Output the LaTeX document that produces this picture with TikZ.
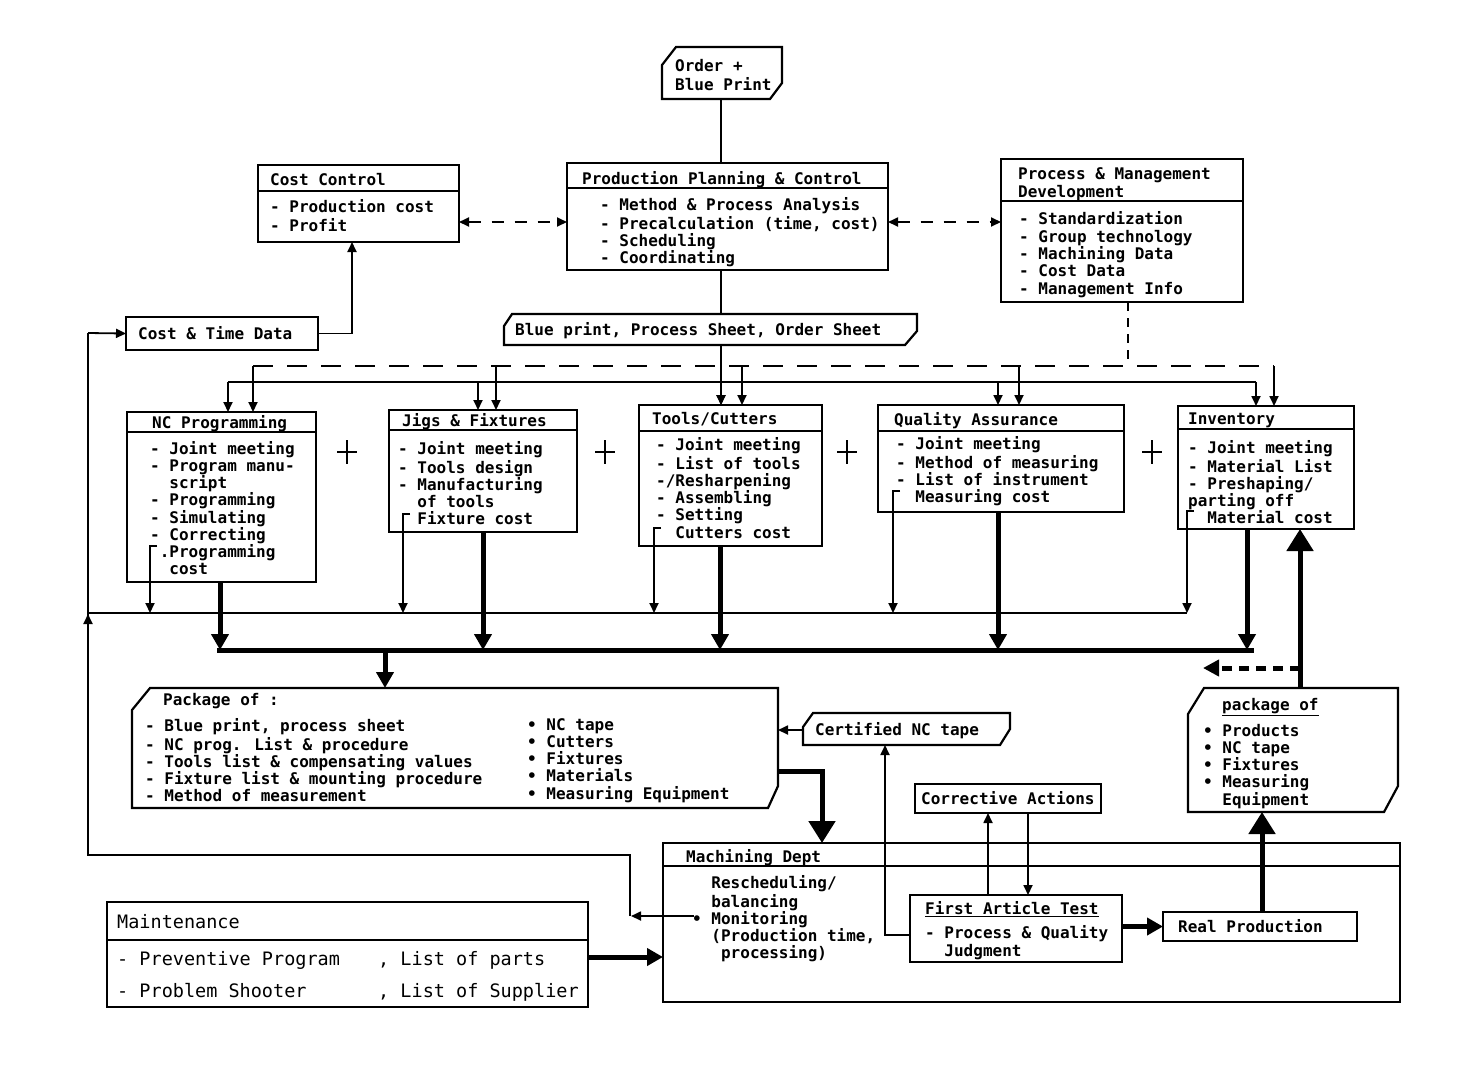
\documentclass[tikz,border=0pt]{standalone}
\usepackage{fontspec}
\newfontfamily\dmono{DejaVu Sans Mono}
\usetikzlibrary{arrows.meta}
\newcommand\dmfont{\dmono\bfseries\fontsize{16}{17.2}\selectfont}
\newcommand\mtfont{\dmono\fontsize{18.5}{17.2}\selectfont}
\newcommand\ind{\hphantom{- }}
\newcommand\bind{\hphantom{• }}
\newcommand\tagbox[5]{\draw[bl] ([yshift=-#3]#1.north west) -- ([xshift=#2]#1.north west) -- (#1.north east) -- ([yshift=#5]#1.south east) -- ([xshift=-#4]#1.south east) -- (#1.south west) -- cycle;}
\newcommand\hsep[2]{\draw[bl] ([yshift=-#2]#1.north west) -- ([yshift=-#2]#1.north east);}
\begin{document}
\begin{tikzpicture}[x=1pt,y=-1pt,
  bl/.style={line width=2.2pt},
  box/.style={draw, line width=2.2pt, inner sep=0pt, outer sep=0pt, anchor=north west},
  lab/.style={inner sep=0pt, outer sep=0pt, anchor=north west},
  txt/.style={inner sep=0pt, anchor=north west, align=left, font=\dmfont},
  tl/.style={line width=1.8pt},
  thk/.style={line width=5pt},
  arr/.style={-{Triangle[length=10pt,width=9pt]}},
  darr/.style={{Triangle[length=10pt,width=9pt]}-{Triangle[length=10pt,width=9pt]}},
  thkarr/.style={-{Triangle[length=16pt,width=17pt]}},
  bigarr/.style={-{Triangle[length=22pt,width=26pt]}},
  dsh/.style={dash pattern=on 20pt off 14pt},
]
\fill[white] (0,0) rectangle (1471,1069);
\useasboundingbox (0,0) rectangle (1471,1069);

% Order
\node[lab, minimum width=120pt, minimum height=52pt] (order) at (662,47) {};
\tagbox{order}{14pt}{18pt}{12pt}{16pt}
\node[txt] (ordert) at (675,59) {\strut Order +\\Blue Print};

% PPC
\node[box, minimum width=321pt, minimum height=107pt] (ppc) at (567,163) {};
\hsep{ppc}{25pt}
\node[txt] (ppch) at (582,171) {\strut Production Planning \& Control};
\node[txt] (ppcb) at (600,197) {\strut - Method \& Process Analysis\\- Precalculation (time, cost)\\- Scheduling\\- Coordinating};

% Cost control
\node[box, minimum width=201pt, minimum height=77pt] (cost) at (258,165) {};
\hsep{cost}{26pt}
\node[txt] (costh) at (270,173) {\strut Cost Control};
\node[txt] (costb) at (270,199) {\strut - Production cost\\- Profit};

% Process & management development
\node[box, minimum width=242pt, minimum height=143pt] (pmd) at (1001,159) {};
\hsep{pmd}{42pt}
\node[txt] (pmdh) at (1018,167) {\strut Process \& Management\\Development};
\node[txt] (pmdb) at (1019,211) {\strut - Standardization\\- Group technology\\- Machining Data\\- Cost Data\\- Management Info};

% Cost & time data
\node[box, minimum width=192pt, minimum height=33pt] (ctd) at (126,317) {};
\node[txt] (ctdt) at (138,326) {\strut Cost \& Time Data};

% Blue print label
\node[lab, minimum width=413pt, minimum height=31pt] (blue) at (504,314) {};
\tagbox{blue}{8pt}{12pt}{12pt}{14pt}
\node[txt] (bluet) at (515,322) {\strut Blue print, Process Sheet, Order Sheet};

% NC Programming
\node[box, minimum width=189pt, minimum height=170pt] (nc) at (127,412) {};
\hsep{nc}{20pt}
\node[txt] (nch) at (152,415) {\strut NC Programming};
\node[txt] (ncb) at (150,441) {\strut - Joint meeting\\- Program manu-\\\ind script\\- Programming\\- Simulating\\- Correcting\\\hphantom{-}.Programming\\\ind cost};

% Jigs & Fixtures
\node[box, minimum width=188pt, minimum height=122pt] (jig) at (389,410) {};
\hsep{jig}{20pt}
\node[txt] (jigh) at (402,413) {\strut Jigs \& Fixtures};
\node[txt] (jigb) at (398,441) {\strut - Joint meeting\\- Tools design\\- Manufacturing\\\ind of tools\\\ind Fixture cost};

% Tools/Cutters
\node[box, minimum width=183pt, minimum height=141pt] (tools) at (639,405) {};
\hsep{tools}{26pt}
\node[txt] (toolsh) at (652,412) {\strut Tools/Cutters};
\node[txt] (toolsb) at (656,437) {\strut - Joint meeting\\- List of tools\\-/Resharpening\\- Assembling\\- Setting\\\ind Cutters cost};

% Quality Assurance
\node[box, minimum width=246pt, minimum height=107pt] (qa) at (878,405) {};
\hsep{qa}{26pt}
\node[txt] (qah) at (894,412) {\strut Quality Assurance};
\node[txt] (qab) at (896,436) {\strut - Joint meeting\\- Method of measuring\\- List of instrument\\\ind Measuring cost};

% Inventory
\node[box, minimum width=176pt, minimum height=123pt] (inv) at (1178,406) {};
\hsep{inv}{23pt}
\node[txt] (invh) at (1188,412) {\strut Inventory};
\node[txt] (invb) at (1188,440) {\strut - Joint meeting\\- Material List\\- Preshaping/\\parting off\\\ind Material cost};

% plus signs
\foreach \px in {347,605,847,1152}
  \draw[line width=2.4pt] (\px-10,452) -- (\px+10,452) (\px,440) -- (\px,464);

% Package of (left)
\node[lab, minimum width=646pt, minimum height=120pt] (pkg) at (132,688) {};
\tagbox{pkg}{18pt}{22pt}{10pt}{22pt}
\node[txt] (pkgh) at (163,693) {\strut Package of :};
\node[txt] (pkgl) at (145,718) {\strut - Blue print, process sheet\\- NC prog. List \& procedure\\- Tools list \& compensating values\\- Fixture list \& mounting procedure\\- Method of measurement};
\node[txt] (pkgr) at (527,718) {\strut • NC tape\\• Cutters\\• Fixtures\\• Materials\\• Measuring Equipment};

% Certified NC tape
\node[lab, minimum width=207pt, minimum height=32pt] (cert) at (803,713) {};
\tagbox{cert}{10pt}{14pt}{10pt}{16pt}
\node[txt] (certt) at (815,722) {\strut Certified NC tape};

% Corrective actions
\node[box, minimum width=186pt, minimum height=29pt] (corr) at (915,784) {};
\node[txt] (corrt) at (921,791) {\strut Corrective Actions};

% Machining Dept
\node[box, minimum width=737pt, minimum height=159pt] (mach) at (663,843) {};
\hsep{mach}{23pt}
\node[txt] (machh) at (686,849) {\strut Machining Dept};
\node[txt] (machb) at (692,875) {\strut \bind Rescheduling/\\\bind balancing\\• Monitoring\\\bind (Production time,\\\bind\ processing)};

% First Article Test
\node[box, minimum width=212pt, minimum height=67pt] (fat) at (910,895) {};
\node[txt] (fath) at (925,901) {\strut \underline{First Article Test}};
\node[txt] (fatb) at (925,925) {\strut - Process \& Quality\\\ind Judgment};

% Real production
\node[box, minimum width=194pt, minimum height=29pt] (real) at (1163,912) {};
\node[txt] (realt) at (1178,919) {\strut Real Production};

% Package of (right)
\node[lab, minimum width=210pt, minimum height=124pt] (pkr) at (1188,688) {};
\tagbox{pkr}{16pt}{26pt}{14pt}{26pt}
\node[txt] (pkrh) at (1222,698) {\strut \underline{package of}};
\node[txt] (pkrb) at (1203,724) {\strut • Products\\• NC tape\\• Fixtures\\• Measuring\\\bind Equipment};

% Maintenance
\node[box, minimum width=481pt, minimum height=105pt] (mnt) at (107,902) {};
\hsep{mnt}{38pt}
\node[txt, font=\mtfont] (mnth) at (117,914) {\strut Maintenance};
\node[txt, font=\mtfont] (mntl) at (117,951) {\strut - Preventive Program\\[11.8pt]- Problem Shooter};
\node[txt, font=\mtfont] (mntr) at (378,951) {\strut , List of parts\\[11.8pt], List of Supplier};

% ---------------- connectors ----------------
\coordinate (vx) at (721,0);
\draw[tl] (order.south -| vx) -- (ppc.north -| vx);
\draw[tl] (ppc.south -| vx) -- (blue.north -| vx);
\draw[tl,arr] (blue.south -| vx) -- (tools.north -| vx);

\draw[tl,darr,dash pattern=on 12pt off 11pt] (cost.east |- 0,222) -- (ppc.west |- 0,222);
\draw[tl,darr,dash pattern=on 12pt off 11pt] (ppc.east |- 0,222) -- (pmd.west |- 0,222);
\draw[tl,dash pattern=on 9pt off 7pt] (1128,0 |- pmd.south) -- (1128,366);

% distribution lines
\coordinate (dL) at (253,366); \coordinate (dR) at (1274,366);
\coordinate (sL) at (228,382); \coordinate (sR) at (1256,382);
\draw[tl,dsh] (dL) -- (dR);
\draw[tl] (sL) -- (sR);
\coordinate (cL) at (88,613); \coordinate (cR) at (1187,613);
\draw[tl] (cL) -- (cR);
\coordinate (bL) at (217,650); \coordinate (bR) at (1254,650);
\draw[thk] (bL) -- (bR);

\foreach \b/\s/\d/\c/\t/\cy in {nc/228/253/150/220/546, jig/478/496/403/483/514, tools/721/742/654/720/528, qa/998/1019/893/998/491, inv/1256/1274/1187/1247/511}{
  \draw[tl,arr] (\s,382) -- (\s,0 |- \b.north);
  \draw[tl,arr] (\d,366) -- (\d,0 |- \b.north);
  \draw[tl,arr] (\c+7,\cy) -- (\c,\cy) -- (\c,613);
  \draw[thk,thkarr] (\t,0 |- \b.south) -- (\t,650);
}
\draw[thk,thkarr] (385,650) -- (385,0 |- pkg.north);

% return from package (right) to inventory
\draw[thk,bigarr] (1300,0 |- pkr.north) -- (1300,0 |- inv.south);
\draw[thk,dash pattern=on 10pt off 7pt,-{Triangle[length=16pt,width=16pt]}] (1300,668) -- (1203,668);

% cost loop
\draw[tl] (630,916) -- (630,855) -- (88,855) -- (88,333);
\draw[tl,arr] (88,650) -- (88,614);
\draw[tl,arr] (88,333) -- (ctd.west);
\draw[tl,arr] (ctd.east) -- (352,0 |- ctd.east) -- (352,0 |- cost.south);
\draw[tl,arr] (694,916) -- (631,916);

% package -> machining
\draw[thk,bigarr] (pkg.east |- 0,771) -- (822,771) -- (822,0 |- mach.north);
\draw[tl,arr] (cert.west |- 0,730) -- (pkg.east |- 0,730);
\draw[tl,arr] (fat.west |- 0,935) -- (885,935) -- (885,0 |- cert.south);
\draw[tl,arr] (988,0 |- fat.north) -- (988,0 |- corr.south);
\draw[tl,arr] (1028,0 |- corr.south) -- (1028,0 |- fat.north);
\draw[thk,thkarr] (fat.east |- real.west) -- (real.west);
\draw[thk,bigarr] (1262,0 |- real.north) -- (1262,0 |- pkr.south);
\draw[thk,thkarr] (mnt.east |- 0,957) -- (mach.west |- 0,957);
\end{tikzpicture}
\end{document}
